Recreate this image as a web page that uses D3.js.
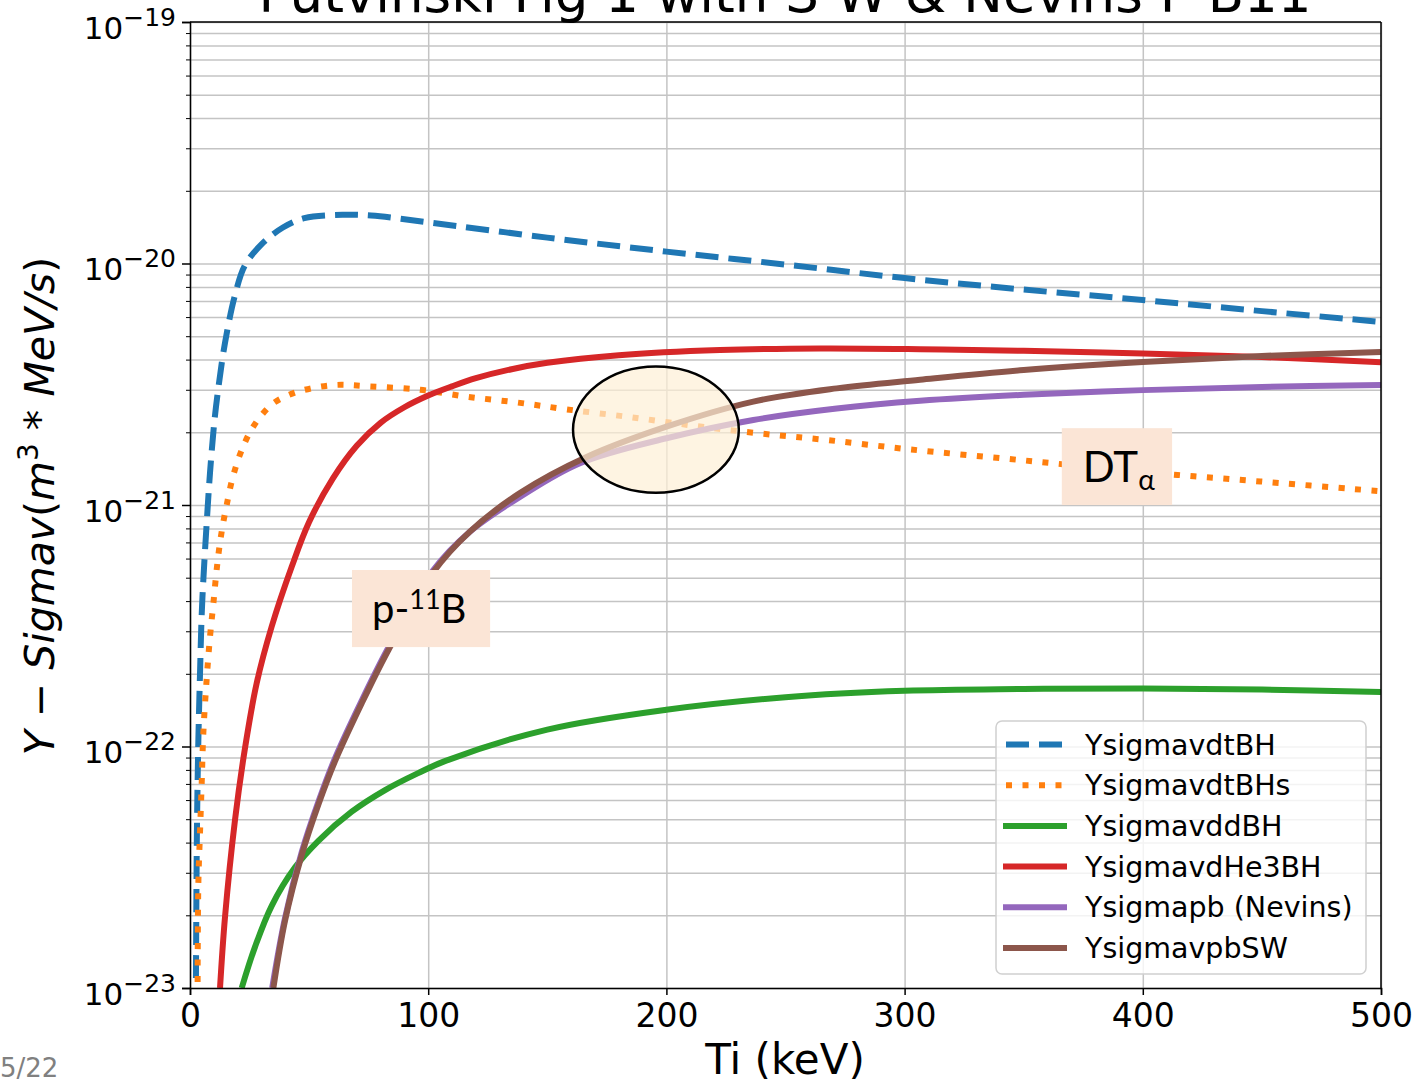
<!DOCTYPE html>
<html>
<head>
<meta charset="utf-8">
<script src="https://cdn.jsdelivr.net/npm/d3@7"></script>
<style>
  body { margin: 0; background: #fff; }
  svg { display: block; }
  text { font-family: "DejaVu Sans", sans-serif; fill: #000; }
</style>
</head>
<body>
<svg id="chart"></svg>
<script>
// ---- data (Ti in keV, value in m^3*MeV/s) ----
const dtBH_T = [2.5, 2.9, 3.5, 4.2, 4.9, 5.6, 7, 8.4, 10.2, 11.8, 14.7, 18.9, 23, 30, 39, 48, 64, 76, 100, 150, 200, 250, 300, 350, 400, 450, 500];
const dtBH_v = [1.1e-23, 4.4e-23, 1.05e-22, 2.0e-22, 3.5e-22, 4.9e-22, 8.4e-22, 1.36e-21, 2.2e-21, 3.0e-21, 4.7e-21, 7.4e-21, 9.8e-21, 1.2e-20, 1.41e-20, 1.54e-20, 1.59e-20, 1.58e-20, 1.48e-20, 1.28e-20, 1.12e-20, 9.9e-21, 8.7e-21, 7.8e-21, 7.06e-21, 6.35e-21, 5.73e-21];

const dtBHs_T = [3.2, 3.5, 4.2, 4.9, 5.6, 7.0, 8.4, 9.8, 11.2, 12.6, 14, 15.4, 17.5, 20.3, 23.1, 25.9, 30.1, 35, 41.3, 47.6, 60.9, 74.9, 96.6, 116, 137, 158, 185, 213, 239, 267, 302, 350, 400, 450, 500];
const dtBHs_v = [1.06e-23, 2.7e-23, 4.4e-23, 7.0e-23, 1.14e-22, 1.9e-22, 2.85e-22, 3.9e-22, 5.4e-22, 7.0e-22, 8.5e-22, 1.0e-21, 1.25e-21, 1.55e-21, 1.82e-21, 2.06e-21, 2.36e-21, 2.64e-21, 2.85e-21, 2.99e-21, 3.14e-21, 3.1e-21, 3.0e-21, 2.81e-21, 2.66e-21, 2.49e-21, 2.31e-21, 2.12e-21, 1.98e-21, 1.86e-21, 1.70e-21, 1.53e-21, 1.37e-21, 1.25e-21, 1.14e-21];

const ddBH_T = [21.7, 27.3, 34.3, 44.1, 53.9, 67.9, 81.9, 95.8, 107, 150, 200, 250, 300, 350, 400, 450, 500];
const ddBH_v = [1e-23, 1.48e-23, 2.19e-23, 3.16e-23, 4.07e-23, 5.37e-23, 6.6e-23, 7.76e-23, 8.7e-23, 1.175e-22, 1.42e-22, 1.6e-22, 1.7e-22, 1.73e-22, 1.74e-22, 1.72e-22, 1.68e-22];

const dHe3BH_T = [12.6, 14.7, 18.9, 23.1, 28, 34.3, 42.7, 50, 60, 70, 80, 90, 100, 110, 120, 135, 150, 180, 222.5, 264.5, 306.5, 350, 400, 450, 500];
const dHe3BH_v = [1e-23, 1.97e-23, 4.97e-23, 9.86e-23, 1.83e-22, 3.14e-22, 5.55e-22, 8.5e-22, 1.29e-21, 1.76e-21, 2.19e-21, 2.54e-21, 2.84e-21, 3.10e-21, 3.35e-21, 3.65e-21, 3.88e-21, 4.17e-21, 4.38e-21, 4.45e-21, 4.42e-21, 4.35e-21, 4.24e-21, 4.1e-21, 3.9e-21];

const pbNevins_T = [34.5, 39.9, 46.9, 53.9, 60.9, 72.1, 83.3, 102, 117.5, 138.5, 163.7, 200, 236.5, 271.5, 306.5, 350, 400, 450, 500];
const pbNevins_v = [1e-23, 1.95e-23, 3.65e-23, 5.9e-23, 8.95e-23, 1.55e-22, 2.57e-22, 5.35e-22, 7.75e-22, 1.08e-21, 1.49e-21, 1.89e-21, 2.25e-21, 2.51e-21, 2.70e-21, 2.86e-21, 2.99e-21, 3.08e-21, 3.14e-21];

const pbSW_T = [35, 39.9, 46.9, 53.9, 60.9, 72.1, 83.3, 102, 117.5, 138.5, 166.5, 200, 236.5, 271.5, 306.5, 350, 400, 450, 500];
const pbSW_v = [1e-23, 1.9e-23, 3.55e-23, 5.75e-23, 8.7e-23, 1.51e-22, 2.51e-22, 5.25e-22, 7.76e-22, 1.12e-21, 1.58e-21, 2.11e-21, 2.68e-21, 3.04e-21, 3.3e-21, 3.62e-21, 3.91e-21, 4.14e-21, 4.3e-21];

const seriesNames = ["YsigmavdtBH", "YsigmavdtBHs", "YsigmavddBH", "YsigmavdHe3BH", "Ysigmapb (Nevins)", "YsigmavpbSW"];
const xTicks = [0, 100, 200, 300, 400, 500];
const yMajor = [1e-23, 1e-22, 1e-21, 1e-20, 1e-19];

const titleText = "Putvinski Fig 1 with S-W & Nevins P-B11";
const xLabel = "Ti (keV)";

// annotations, in data coordinates
const ellipseC = [195.6, 2.05e-21], ellipseT = [160.8, 230.4], ellipseV = [1.12e-21, 3.73e-21];
const pbBoxT = [68, 126], pbBoxV = [2.58e-22, 5.38e-22];
const dtBoxT = [366, 412.3], dtBoxV = [1.0e-21, 2.08e-21];

// ---- layout ----
const W = 1413, H = 1083;
const svg = d3.select("#chart").attr("width", W).attr("height", H);

const x = d3.scaleLinear().domain([0, 500]).range([190, 1381]);
const y = d3.scaleLog().domain([1e-23, 1e-19]).range([988, 22]);

const yMinor = [];
for (let e = -23; e < -19; e++) {
  for (let m = 2; m <= 9; m++) yMinor.push(m * Math.pow(10, e));
}

const gridColor = "#c4c4c4";

// grid lines
svg.append("g")
  .attr("transform", `translate(0,${y.range()[0]})`)
  .call(d3.axisBottom(x).tickValues(xTicks).tickSize(-(988 - 22)).tickFormat(""))
  .call(g => g.select(".domain").remove())
  .selectAll("line").attr("stroke", gridColor).attr("stroke-width", 1.5);

svg.append("g")
  .attr("transform", `translate(${x.range()[0]},0)`)
  .call(d3.axisLeft(y).tickValues(yMajor.concat(yMinor)).tickSize(-(1381 - 190)).tickFormat(""))
  .call(g => g.select(".domain").remove())
  .selectAll("line").attr("stroke", gridColor).attr("stroke-width", 1.5);

// curves
svg.append("clipPath").attr("id", "plotclip")
  .append("rect").attr("x", 190).attr("y", 22).attr("width", 1191).attr("height", 966);

const line = d3.line()
  .x(d => x(d[0]))
  .y(d => y(d[1]))
  .curve(d3.curveCatmullRom.alpha(0.5));

const series = [
  { T: dtBH_T, v: dtBH_v, color: "#1f77b4", dash: "23,10" },
  { T: dtBHs_T, v: dtBHs_v, color: "#ff7f0e", dash: "6,10.5" },
  { T: ddBH_T, v: ddBH_v, color: "#2ca02c", dash: null },
  { T: dHe3BH_T, v: dHe3BH_v, color: "#d62728", dash: null },
  { T: pbNevins_T, v: pbNevins_v, color: "#9467bd", dash: null },
  { T: pbSW_T, v: pbSW_v, color: "#8c564b", dash: null }
];

const curves = svg.append("g").attr("clip-path", "url(#plotclip)");
series.forEach(s => {
  curves.append("path")
    .datum(s.T.map((t, i) => [t, s.v[i]]))
    .attr("d", line)
    .attr("fill", "none")
    .attr("stroke", s.color)
    .attr("stroke-width", 6)
    .attr("stroke-dasharray", s.dash)
    .attr("stroke-linecap", "butt");
});

// highlight ellipse
svg.append("ellipse")
  .attr("cx", x(ellipseC[0]))
  .attr("cy", y(ellipseC[1]))
  .attr("rx", (x(ellipseT[1]) - x(ellipseT[0])) / 2)
  .attr("ry", (y(ellipseV[0]) - y(ellipseV[1])) / 2)
  .attr("fill", "#fdf0d6")
  .attr("fill-opacity", 0.7)
  .attr("stroke", "#000")
  .attr("stroke-width", 2.5);

// label boxes
const boxFill = "#fbe5d6";
svg.append("rect")
  .attr("x", x(pbBoxT[0])).attr("y", y(pbBoxV[1]))
  .attr("width", x(pbBoxT[1]) - x(pbBoxT[0]))
  .attr("height", y(pbBoxV[0]) - y(pbBoxV[1]))
  .attr("fill", boxFill);
const pbText = svg.append("text")
  .attr("x", x(pbBoxT[0]) + 20)
  .attr("y", y(pbBoxV[1]) + 53)
  .style("font-family", "Lato, 'Open Sans', sans-serif")
  .style("font-size", "40px");
pbText.append("tspan").text("p-");
pbText.append("tspan").attr("dy", -14).style("font-size", "27px").text("11");
pbText.append("tspan").attr("dy", 14).text("B");

svg.append("rect")
  .attr("x", x(dtBoxT[0])).attr("y", y(dtBoxV[1]))
  .attr("width", x(dtBoxT[1]) - x(dtBoxT[0]))
  .attr("height", y(dtBoxV[0]) - y(dtBoxV[1]))
  .attr("fill", boxFill);
const dtText = svg.append("text")
  .attr("x", x(dtBoxT[0]) + 21)
  .attr("y", y(dtBoxV[1]) + 54)
  .style("font-family", "Lato, 'Open Sans', sans-serif")
  .style("font-size", "42px");
dtText.append("tspan").text("DT");
dtText.append("tspan").attr("dy", 8).style("font-size", "28px").text("α");

// legend
const leg = svg.append("g").attr("transform", "translate(996,721)");
leg.append("rect")
  .attr("width", 370).attr("height", 253).attr("rx", 6)
  .attr("fill", "#fff").attr("fill-opacity", 0.8)
  .attr("stroke", "#d0d0d0").attr("stroke-width", 1.5);
series.forEach((s, i) => {
  const ry = 23.5 + i * 40.7;
  leg.append("line")
    .attr("x1", 10).attr("x2", 68).attr("y1", ry).attr("y2", ry)
    .attr("stroke", s.color).attr("stroke-width", 6)
    .attr("stroke-dasharray", s.dash)
    .attr("stroke-linecap", s.dash ? "butt" : "square");
  leg.append("text")
    .attr("x", 89).attr("y", ry + 10)
    .style("font-size", "28.5px")
    .text(seriesNames[i]);
});

// axes
const xAxis = svg.append("g")
  .attr("transform", "translate(0,988)")
  .call(d3.axisBottom(x).tickValues(xTicks).tickSize(7).tickPadding(9).tickFormat(d3.format("d")));
xAxis.selectAll("text").style("font-size", "33px").style("font-family", "DejaVu Sans").attr("fill", "#000");

const yAxis = svg.append("g")
  .attr("transform", "translate(190,0)")
  .call(d3.axisLeft(y).tickValues(yMajor).tickSize(8).tickFormat(""));
yAxis.selectAll(".tick").each(function(d) {
  const t = d3.select(this).append("text")
    .attr("x", -14).attr("y", 16)
    .attr("text-anchor", "end")
    .attr("fill", "#000")
    .style("font-size", "31px")
    .style("font-family", "DejaVu Sans");
  t.append("tspan").text("10");
  t.append("tspan").attr("dy", -13).style("font-size", "25px")
    .text("\u2212" + Math.round(-Math.log10(d)));
});

svg.append("g")
  .attr("transform", "translate(190,0)")
  .call(d3.axisLeft(y).tickValues(yMinor).tickSize(4).tickFormat(""))
  .call(g => g.select(".domain").remove());

[xAxis, yAxis].forEach(a => a.selectAll("line, path").attr("stroke", "#000").attr("stroke-width", 1.5));

// top and right spines
svg.append("line").attr("x1", 190).attr("x2", 1381).attr("y1", 22).attr("y2", 22)
  .attr("stroke", "#000").attr("stroke-width", 1.5);
svg.append("line").attr("x1", 1381).attr("x2", 1381).attr("y1", 22).attr("y2", 988)
  .attr("stroke", "#000").attr("stroke-width", 1.5);

// titles (the title is cut by the top edge, as in the original slide)
svg.append("text")
  .attr("x", 785).attr("y", 12)
  .attr("text-anchor", "middle")
  .style("font-size", "53px")
  .text(titleText);

svg.append("text")
  .attr("x", 785).attr("y", 1074)
  .attr("text-anchor", "middle")
  .style("font-size", "42px")
  .text(xLabel);

const yl = svg.append("text")
  .attr("transform", "translate(54,506) rotate(-90)")
  .attr("text-anchor", "middle")
  .style("font-size", "41px");
yl.append("tspan").style("font-style", "italic").text("Y");
yl.append("tspan").text(" \u2212 ");
yl.append("tspan").style("font-style", "italic").text("Sigmav");
yl.append("tspan").text("(");
yl.append("tspan").style("font-style", "italic").text("m");
yl.append("tspan").attr("dy", -16).style("font-size", "28px").text("3");
yl.append("tspan").attr("dy", 16).text(" * ");
yl.append("tspan").style("font-style", "italic").text("MeV/s");
yl.append("tspan").text(")");

svg.append("text")
  .attr("x", 0).attr("y", 1077)
  .style("font-size", "26px")
  .style("fill", "#808080")
  .text("5/22");
</script>
</body>
</html>
